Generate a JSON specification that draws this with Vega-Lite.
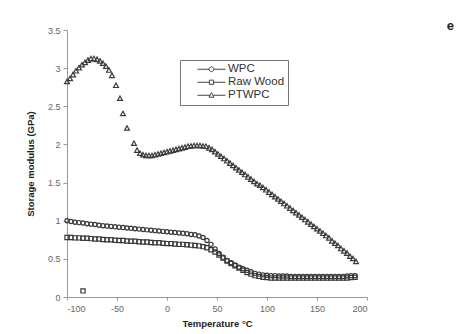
{
  "$schema": "https://vega.github.io/schema/vega-lite/v6.json",
  "width": 300,
  "height": 267,
  "autosize": {"type": "none"},
  "padding": {"left": 67, "top": 30, "right": 91, "bottom": 37},
  "background": "white",
  "config": {
    "view": {"stroke": null},
    "font": "Liberation Sans"
  },
  "title": {"text": "e", "anchor": "end", "fontSize": 13, "fontWeight": "bold", "color": "#222", "dx": 84, "dy": 7, "offset": 0},
  "data": {"values": [
    {"s":"WPC","t":-100,"g":1.00},{"s":"WPC","t":-96,"g":0.99},{"s":"WPC","t":-92,"g":0.98},{"s":"WPC","t":-88,"g":0.975},{"s":"WPC","t":-84,"g":0.97},{"s":"WPC","t":-80,"g":0.96},{"s":"WPC","t":-76,"g":0.955},{"s":"WPC","t":-72,"g":0.95},{"s":"WPC","t":-68,"g":0.94},{"s":"WPC","t":-64,"g":0.935},{"s":"WPC","t":-60,"g":0.93},{"s":"WPC","t":-56,"g":0.925},{"s":"WPC","t":-52,"g":0.92},{"s":"WPC","t":-48,"g":0.915},{"s":"WPC","t":-44,"g":0.91},{"s":"WPC","t":-40,"g":0.905},{"s":"WPC","t":-36,"g":0.9},{"s":"WPC","t":-32,"g":0.895},{"s":"WPC","t":-28,"g":0.89},{"s":"WPC","t":-24,"g":0.885},{"s":"WPC","t":-20,"g":0.88},{"s":"WPC","t":-16,"g":0.875},{"s":"WPC","t":-12,"g":0.87},{"s":"WPC","t":-8,"g":0.865},{"s":"WPC","t":-4,"g":0.86},{"s":"WPC","t":0,"g":0.855},{"s":"WPC","t":4,"g":0.85},{"s":"WPC","t":8,"g":0.845},{"s":"WPC","t":12,"g":0.84},{"s":"WPC","t":16,"g":0.835},{"s":"WPC","t":20,"g":0.83},{"s":"WPC","t":24,"g":0.82},{"s":"WPC","t":28,"g":0.815},{"s":"WPC","t":32,"g":0.8},{"s":"WPC","t":36,"g":0.78},{"s":"WPC","t":40,"g":0.74},{"s":"WPC","t":44,"g":0.69},{"s":"WPC","t":48,"g":0.63},{"s":"WPC","t":52,"g":0.57},{"s":"WPC","t":56,"g":0.52},{"s":"WPC","t":60,"g":0.48},{"s":"WPC","t":64,"g":0.45},{"s":"WPC","t":68,"g":0.42},{"s":"WPC","t":72,"g":0.39},{"s":"WPC","t":76,"g":0.37},{"s":"WPC","t":80,"g":0.35},{"s":"WPC","t":84,"g":0.33},{"s":"WPC","t":88,"g":0.31},{"s":"WPC","t":92,"g":0.3},{"s":"WPC","t":96,"g":0.29},{"s":"WPC","t":100,"g":0.285},{"s":"WPC","t":104,"g":0.28},{"s":"WPC","t":108,"g":0.28},{"s":"WPC","t":112,"g":0.275},{"s":"WPC","t":116,"g":0.275},{"s":"WPC","t":120,"g":0.275},{"s":"WPC","t":124,"g":0.27},{"s":"WPC","t":128,"g":0.27},{"s":"WPC","t":132,"g":0.27},{"s":"WPC","t":136,"g":0.27},{"s":"WPC","t":140,"g":0.27},{"s":"WPC","t":144,"g":0.27},{"s":"WPC","t":148,"g":0.27},{"s":"WPC","t":152,"g":0.27},{"s":"WPC","t":156,"g":0.27},{"s":"WPC","t":160,"g":0.27},{"s":"WPC","t":164,"g":0.27},{"s":"WPC","t":168,"g":0.27},{"s":"WPC","t":172,"g":0.27},{"s":"WPC","t":176,"g":0.27},{"s":"WPC","t":180,"g":0.275},{"s":"WPC","t":184,"g":0.28},{"s":"WPC","t":188,"g":0.28},
    {"s":"Raw Wood","t":-100,"g":0.78},{"s":"Raw Wood","t":-96,"g":0.78},{"s":"Raw Wood","t":-92,"g":0.775},{"s":"Raw Wood","t":-88,"g":0.775},{"s":"Raw Wood","t":-84,"g":0.77},{"s":"Raw Wood","t":-80,"g":0.77},{"s":"Raw Wood","t":-76,"g":0.765},{"s":"Raw Wood","t":-72,"g":0.76},{"s":"Raw Wood","t":-68,"g":0.76},{"s":"Raw Wood","t":-64,"g":0.755},{"s":"Raw Wood","t":-60,"g":0.75},{"s":"Raw Wood","t":-56,"g":0.75},{"s":"Raw Wood","t":-52,"g":0.745},{"s":"Raw Wood","t":-48,"g":0.74},{"s":"Raw Wood","t":-44,"g":0.74},{"s":"Raw Wood","t":-40,"g":0.735},{"s":"Raw Wood","t":-36,"g":0.73},{"s":"Raw Wood","t":-32,"g":0.73},{"s":"Raw Wood","t":-28,"g":0.725},{"s":"Raw Wood","t":-24,"g":0.72},{"s":"Raw Wood","t":-20,"g":0.72},{"s":"Raw Wood","t":-16,"g":0.715},{"s":"Raw Wood","t":-12,"g":0.71},{"s":"Raw Wood","t":-8,"g":0.71},{"s":"Raw Wood","t":-4,"g":0.705},{"s":"Raw Wood","t":0,"g":0.7},{"s":"Raw Wood","t":4,"g":0.7},{"s":"Raw Wood","t":8,"g":0.695},{"s":"Raw Wood","t":12,"g":0.69},{"s":"Raw Wood","t":16,"g":0.69},{"s":"Raw Wood","t":20,"g":0.685},{"s":"Raw Wood","t":24,"g":0.68},{"s":"Raw Wood","t":28,"g":0.675},{"s":"Raw Wood","t":32,"g":0.67},{"s":"Raw Wood","t":36,"g":0.66},{"s":"Raw Wood","t":40,"g":0.645},{"s":"Raw Wood","t":44,"g":0.62},{"s":"Raw Wood","t":48,"g":0.59},{"s":"Raw Wood","t":52,"g":0.55},{"s":"Raw Wood","t":56,"g":0.51},{"s":"Raw Wood","t":60,"g":0.47},{"s":"Raw Wood","t":64,"g":0.44},{"s":"Raw Wood","t":68,"g":0.41},{"s":"Raw Wood","t":72,"g":0.38},{"s":"Raw Wood","t":76,"g":0.35},{"s":"Raw Wood","t":80,"g":0.32},{"s":"Raw Wood","t":84,"g":0.3},{"s":"Raw Wood","t":88,"g":0.28},{"s":"Raw Wood","t":92,"g":0.27},{"s":"Raw Wood","t":96,"g":0.26},{"s":"Raw Wood","t":100,"g":0.255},{"s":"Raw Wood","t":104,"g":0.25},{"s":"Raw Wood","t":108,"g":0.25},{"s":"Raw Wood","t":112,"g":0.25},{"s":"Raw Wood","t":116,"g":0.25},{"s":"Raw Wood","t":120,"g":0.25},{"s":"Raw Wood","t":124,"g":0.25},{"s":"Raw Wood","t":128,"g":0.25},{"s":"Raw Wood","t":132,"g":0.25},{"s":"Raw Wood","t":136,"g":0.25},{"s":"Raw Wood","t":140,"g":0.25},{"s":"Raw Wood","t":144,"g":0.25},{"s":"Raw Wood","t":148,"g":0.25},{"s":"Raw Wood","t":152,"g":0.25},{"s":"Raw Wood","t":156,"g":0.25},{"s":"Raw Wood","t":160,"g":0.25},{"s":"Raw Wood","t":164,"g":0.25},{"s":"Raw Wood","t":168,"g":0.25},{"s":"Raw Wood","t":172,"g":0.25},{"s":"Raw Wood","t":176,"g":0.25},{"s":"Raw Wood","t":180,"g":0.25},{"s":"Raw Wood","t":184,"g":0.255},{"s":"Raw Wood","t":188,"g":0.26},{"s":"Raw Wood","t":-84,"g":0.08},
    {"s":"PTWPC","t":-100,"g":2.82},{"s":"PTWPC","t":-97,"g":2.86},{"s":"PTWPC","t":-94,"g":2.91},{"s":"PTWPC","t":-91,"g":2.96},{"s":"PTWPC","t":-88,"g":3.0},{"s":"PTWPC","t":-85,"g":3.04},{"s":"PTWPC","t":-82,"g":3.07},{"s":"PTWPC","t":-79,"g":3.1},{"s":"PTWPC","t":-76,"g":3.12},{"s":"PTWPC","t":-73,"g":3.12},{"s":"PTWPC","t":-70,"g":3.11},{"s":"PTWPC","t":-67,"g":3.09},{"s":"PTWPC","t":-64,"g":3.06},{"s":"PTWPC","t":-61,"g":3.02},{"s":"PTWPC","t":-58,"g":2.97},{"s":"PTWPC","t":-55,"g":2.9},{"s":"PTWPC","t":-51,"g":2.77},{"s":"PTWPC","t":-47,"g":2.6},{"s":"PTWPC","t":-44,"g":2.4},{"s":"PTWPC","t":-40,"g":2.21},{"s":"PTWPC","t":-33,"g":2.01},{"s":"PTWPC","t":-30,"g":1.92},{"s":"PTWPC","t":-27,"g":1.88},{"s":"PTWPC","t":-24,"g":1.86},{"s":"PTWPC","t":-21,"g":1.85},{"s":"PTWPC","t":-18,"g":1.85},{"s":"PTWPC","t":-15,"g":1.85},{"s":"PTWPC","t":-12,"g":1.86},{"s":"PTWPC","t":-9,"g":1.87},{"s":"PTWPC","t":-6,"g":1.88},{"s":"PTWPC","t":-3,"g":1.89},{"s":"PTWPC","t":0,"g":1.9},{"s":"PTWPC","t":3,"g":1.91},{"s":"PTWPC","t":6,"g":1.92},{"s":"PTWPC","t":9,"g":1.93},{"s":"PTWPC","t":12,"g":1.94},{"s":"PTWPC","t":15,"g":1.95},{"s":"PTWPC","t":18,"g":1.96},{"s":"PTWPC","t":21,"g":1.97},{"s":"PTWPC","t":24,"g":1.975},{"s":"PTWPC","t":27,"g":1.98},{"s":"PTWPC","t":30,"g":1.98},{"s":"PTWPC","t":33,"g":1.98},{"s":"PTWPC","t":36,"g":1.975},{"s":"PTWPC","t":39,"g":1.97},{"s":"PTWPC","t":42,"g":1.95},{"s":"PTWPC","t":45,"g":1.93},{"s":"PTWPC","t":48,"g":1.9},{"s":"PTWPC","t":51,"g":1.87},{"s":"PTWPC","t":54,"g":1.84},{"s":"PTWPC","t":57,"g":1.81},{"s":"PTWPC","t":60,"g":1.78},{"s":"PTWPC","t":63,"g":1.75},{"s":"PTWPC","t":66,"g":1.72},{"s":"PTWPC","t":69,"g":1.69},{"s":"PTWPC","t":72,"g":1.66},{"s":"PTWPC","t":75,"g":1.63},{"s":"PTWPC","t":78,"g":1.6},{"s":"PTWPC","t":81,"g":1.57},{"s":"PTWPC","t":84,"g":1.54},{"s":"PTWPC","t":87,"g":1.51},{"s":"PTWPC","t":90,"g":1.48},{"s":"PTWPC","t":93,"g":1.46},{"s":"PTWPC","t":96,"g":1.43},{"s":"PTWPC","t":99,"g":1.4},{"s":"PTWPC","t":102,"g":1.37},{"s":"PTWPC","t":105,"g":1.34},{"s":"PTWPC","t":108,"g":1.31},{"s":"PTWPC","t":111,"g":1.28},{"s":"PTWPC","t":114,"g":1.25},{"s":"PTWPC","t":117,"g":1.22},{"s":"PTWPC","t":120,"g":1.19},{"s":"PTWPC","t":123,"g":1.16},{"s":"PTWPC","t":126,"g":1.13},{"s":"PTWPC","t":129,"g":1.1},{"s":"PTWPC","t":132,"g":1.07},{"s":"PTWPC","t":135,"g":1.04},{"s":"PTWPC","t":138,"g":1.01},{"s":"PTWPC","t":141,"g":0.98},{"s":"PTWPC","t":144,"g":0.95},{"s":"PTWPC","t":147,"g":0.92},{"s":"PTWPC","t":150,"g":0.89},{"s":"PTWPC","t":153,"g":0.86},{"s":"PTWPC","t":156,"g":0.83},{"s":"PTWPC","t":159,"g":0.8},{"s":"PTWPC","t":162,"g":0.77},{"s":"PTWPC","t":165,"g":0.73},{"s":"PTWPC","t":168,"g":0.7},{"s":"PTWPC","t":171,"g":0.67},{"s":"PTWPC","t":174,"g":0.63},{"s":"PTWPC","t":177,"g":0.6},{"s":"PTWPC","t":180,"g":0.57},{"s":"PTWPC","t":183,"g":0.53},{"s":"PTWPC","t":186,"g":0.5},{"s":"PTWPC","t":189,"g":0.46}
  ]},
  "encoding": {
    "x": {
      "field": "t", "type": "quantitative",
      "scale": {"domain": [-100, 200], "nice": false, "zero": false},
      "axis": {"values": [-100, -50, 0, 50, 100, 150, 200], "labelExpr": "'' + datum.value", "grid": false, "title": "Temperature °C", "titleFontSize": 9.5, "titleFontWeight": "bold", "titleColor": "#222", "titlePadding": 5, "labelFontSize": 9, "labelColor": "#666", "domainColor": "#999", "tickColor": "#999", "tickSize": 3, "labelPadding": 4}
    },
    "y": {
      "field": "g", "type": "quantitative",
      "scale": {"domain": [0, 3.5], "nice": false},
      "axis": {"values": [0, 0.5, 1, 1.5, 2, 2.5, 3, 3.5], "labelExpr": "'' + datum.value", "grid": false, "title": "Storage modulus (GPa)", "titleFontSize": 9.5, "titleFontWeight": "bold", "titleColor": "#222", "titlePadding": 12, "labelFontSize": 9, "labelColor": "#666", "domainColor": "#999", "tickColor": "#999", "tickSize": 4, "labelPadding": 3}
    }
  },
  "layer": [
    {
      "mark": {"type": "point", "filled": false, "stroke": "#3a3a3a", "strokeWidth": 1.2, "size": 18, "opacity": 1},
      "encoding": {
        "shape": {
          "field": "s", "type": "nominal",
          "scale": {"domain": ["WPC", "Raw Wood", "PTWPC"], "range": ["circle", "square", "M0,-1.25L1.15,0.85L-1.15,0.85Z"]},
          "legend": null
        }
      }
    },
    {
      "mark": {"type": "point", "filled": false, "stroke": "#3a3a3a", "strokeWidth": 1, "size": 784, "opacity": 0},
      "encoding": {
        "shape": {
          "field": "s", "type": "nominal",
          "scale": {"domain": ["WPC", "Raw Wood", "PTWPC"], "range": [
            "M-1,0H-0.17M0.17,0H1M-0.17,0A0.17,0.17,0,1,0,0.17,0A0.17,0.17,0,1,0,-0.17,0",
            "M-1,0H-0.15M0.15,0H1M-0.15,-0.15H0.15V0.15H-0.15Z",
            "M-1,0H-0.1M0.1,0H1M0,-0.19L0.18,0.14L-0.18,0.14Z"
          ]},
          "legend": {
            "orient": "none", "legendX": 113, "legendY": 30, "title": null,
            "strokeColor": "#777", "padding": 3, "symbolOffset": 14,
            "symbolSize": 784, "clipHeight": 12.5, "rowPadding": 0,
            "labelFontSize": 11.5, "labelColor": "#333", "labelOffset": 2,
            "labelExpr": "datum.label + '\u00a0\u00a0\u00a0\u00a0\u00a0'",
            "symbolStrokeColor": "#444", "symbolFillColor": "white", "symbolStrokeWidth": 1, "symbolOpacity": 1
          }
        }
      }
    }
  ],
  "resolve": {"scale": {"shape": "independent"}, "legend": {"shape": "independent"}}
}
